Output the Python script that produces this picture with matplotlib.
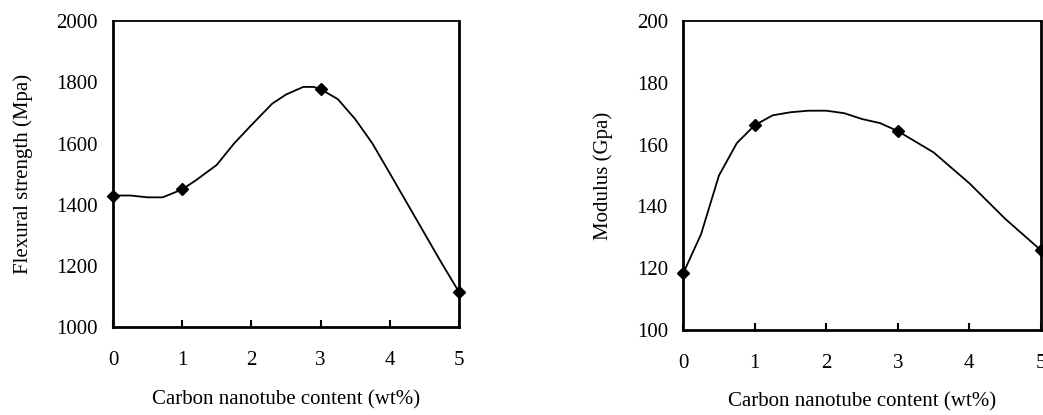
import matplotlib
matplotlib.use('Agg')
import matplotlib.pyplot as plt

plt.rcParams['font.family'] = ['Liberation Serif', 'DejaVu Serif']

# measured points (markers)
cnt = [0, 1, 3, 5]
strength = [1430, 1450, 1778, 1115]
modulus = [118.3, 166.3, 164.4, 125.8]

# smoothed curves
s_x = [0, 0.25, 0.5, 0.72, 1, 1.2, 1.5, 1.75, 2, 2.3, 2.5, 2.75, 2.9, 3, 3.25, 3.5, 3.75, 4, 4.5, 4.75, 5]
s_y = [1430, 1430, 1424, 1424, 1450, 1480, 1530, 1600, 1660, 1730, 1760, 1785, 1785, 1778, 1745, 1680, 1600, 1503, 1307, 1209, 1115]
m_x = [0, 0.25, 0.5, 0.75, 1, 1.25, 1.5, 1.75, 2, 2.25, 2.5, 2.75, 3, 3.5, 4, 4.5, 5]
m_y = [118.3, 131, 150, 160.5, 166.3, 169.5, 170.5, 171, 171, 170.2, 168.3, 167, 164.4, 157.5, 147.5, 136, 125.8]

fig = plt.figure(figsize=(10.43, 4.15), dpi=100)
ax1 = fig.add_axes([0.1083, 0.212, 0.3317, 0.737])
ax2 = fig.add_axes([0.655, 0.205, 0.343, 0.744])

fs = 15

def style(ax, ylim, yticks):
    ax.set_xlim(0, 5)
    ax.set_ylim(*ylim)
    ax.set_xticks(range(6))
    ax.set_yticks(yticks)
    ax.tick_params(axis='x', direction='in', length=5, width=1.5, pad=17, labelsize=fs)
    ax.tick_params(axis='y', length=0, pad=11, labelsize=fs)
    for side in ['left', 'bottom', 'right']:
        ax.spines[side].set_linewidth(2)
    ax.spines['top'].set_linewidth(1.3)
    ax.set_xlabel('Carbon nanotube content (wt%)', fontsize=fs)

ax1.plot(s_x, s_y, color='black', lw=1.3, clip_on=False)
ax1.plot(cnt, strength, 'D', color='black', ms=6, clip_on=False)
style(ax1, (1000, 2000), range(1000, 2001, 200))
ax1.set_ylabel('Flexural strength (Mpa)', fontsize=fs)
ax1.yaxis.set_label_coords(-0.26, 0.5)
ax1.xaxis.set_label_coords(0.5, -0.239)

ax2.plot(m_x, m_y, color='black', lw=1.3, clip_on=False)
ax2.plot(cnt, modulus, 'D', color='black', ms=6, clip_on=False)
style(ax2, (100, 200), range(100, 201, 20))
ax2.set_ylabel('Modulus (Gpa)', fontsize=fs)
ax2.yaxis.set_label_coords(-0.223, 0.5)
ax2.xaxis.set_label_coords(0.5, -0.233)

for lab in ax1.xaxis.get_label(), ax2.xaxis.get_label():
    lab.set_va('center')
for lab in ax1.yaxis.get_label(), ax2.yaxis.get_label():
    lab.set_va('center')

fig.savefig('out.png', dpi=100)
